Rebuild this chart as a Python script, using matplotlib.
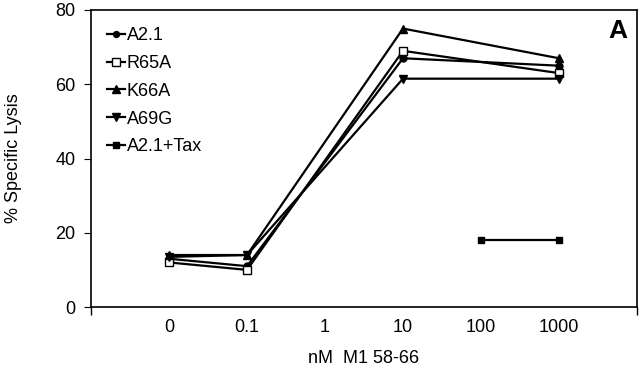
import matplotlib
matplotlib.use("Agg")
import matplotlib.pyplot as plt

plt.rcParams['font.family'] = ['Liberation Sans', 'DejaVu Sans']

categories = ["0", "0.1", "1", "10", "100", "1000"]
x_a2 = ["0", "0.1", "10", "1000"]
a21 = [13, 11, 67, 65]
r65a = [12, 10, 69, 63]
k66a = [14, 14, 75, 67]
a69g = [13.5, 14, 61.5, 61.5]
x_tax = ["100", "1000"]
a21_tax = [18, 18]

pos = {c: i for i, c in enumerate(categories)}

fig = plt.figure(figsize=(6.4, 3.73), dpi=100)
ax = fig.add_axes([91/640, 66/373, 546/640, 297/373])

lw = 1.6
xs = [pos[c] for c in x_a2]
ax.plot(xs, a21, '-', color='black', lw=lw, marker='o', ms=5, label='A2.1')
ax.plot(xs, r65a, '-', color='black', lw=lw, marker='s', ms=6, mfc='white', mec='black', mew=1.0, label='R65A')
ax.plot(xs, k66a, '-', color='black', lw=lw, marker='^', ms=6, label='K66A')
ax.plot(xs, a69g, '-', color='black', lw=lw, marker='v', ms=6, label='A69G')
ax.plot([pos[c] for c in x_tax], a21_tax, '-', color='black', lw=lw, marker='s', ms=5, label='A2.1+Tax')

ax.set_xlim(-1, 6)
ax.set_ylim(0, 80)
ax.set_yticks([0, 20, 40, 60, 80])
ax.set_xticks(range(len(categories)))
ax.set_xticklabels(categories)
ax.set_xticks(range(-1, 7), minor=True)
ax.tick_params(axis='x', which='major', length=0, pad=9, labelsize=13)
ax.tick_params(axis='x', which='minor', length=6, width=1, direction='out')
ax.tick_params(axis='y', length=5, width=0.8, direction='out', pad=6, labelsize=13)
for s in ax.spines.values():
    s.set_linewidth(1.2)

ax.set_xlabel('nM  M1 58-66', fontsize=13, labelpad=10)
ax.set_ylabel('% Specific Lysis', fontsize=13, labelpad=24)

ax.legend(loc='upper left', frameon=False, fontsize=13, handlelength=0.95,
          handletextpad=0.12, labelspacing=0.6, borderaxespad=0.3,
          markerscale=0.85, bbox_to_anchor=(0.007, 0.985))
ax.text(0.965, 0.93, 'A', transform=ax.transAxes, fontsize=19, fontweight='bold',
        ha='center', va='center')

fig.savefig('out.png', dpi=100)
